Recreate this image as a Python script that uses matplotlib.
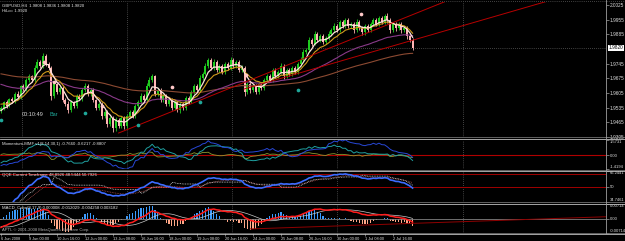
import numpy as np
import pandas as pd
import matplotlib
matplotlib.use("Agg")
import matplotlib.pyplot as plt
from matplotlib.lines import Line2D

plt.rcParams["font.family"] = ["Liberation Sans", "DejaVu Sans"]

# ---------------- data ----------------
warmup_close = [1.9745, 1.9738, 1.9750, 1.9732, 1.9728, 1.9735, 1.9725,
                1.9720, 1.9705, 1.9712, 1.9698, 1.9690, 1.9702, 1.9685, 1.9676, 1.9690, 1.9680,
                1.9665, 1.9672, 1.9655, 1.9640, 1.9632, 1.9618, 1.9600, 1.9575, 1.9540, 1.9505,
                1.9490, 1.9502, 1.9520]

close = [1.9534, 1.9562, 1.9543, 1.9577, 1.9567, 1.9601, 1.9586, 1.9639, 1.9624, 1.9667,
         1.9686, 1.9667, 1.9725, 1.9753, 1.9734, 1.9782, 1.9744, 1.9725, 1.9591, 1.9648,
         1.9610, 1.9629, 1.9572, 1.9553, 1.9524, 1.9562, 1.9543, 1.9591, 1.9577, 1.9620,
         1.9639, 1.9601, 1.9620, 1.9572, 1.9534, 1.9553, 1.9496, 1.9515, 1.9457, 1.9486,
         1.9438, 1.9477, 1.9448, 1.9486, 1.9448, 1.9496, 1.9515, 1.9496, 1.9543, 1.9562,
         1.9591, 1.9572, 1.9639, 1.9667, 1.9686, 1.9601, 1.9620, 1.9572, 1.9591, 1.9553,
         1.9572, 1.9534, 1.9562, 1.9524, 1.9553, 1.9534, 1.9581, 1.9562, 1.9610, 1.9639,
         1.9620, 1.9677, 1.9696, 1.9734, 1.9763, 1.9725, 1.9753, 1.9715, 1.9734, 1.9705,
         1.9744, 1.9725, 1.9763, 1.9734, 1.9753, 1.9715, 1.9725, 1.9610, 1.9648, 1.9620,
         1.9639, 1.9610, 1.9648, 1.9629, 1.9667, 1.9686, 1.9667, 1.9715, 1.9686, 1.9705,
         1.9734, 1.9686, 1.9715, 1.9696, 1.9725, 1.9705, 1.9744, 1.9763, 1.9801, 1.9810,
         1.9858, 1.9839, 1.9887, 1.9858, 1.9877, 1.9849, 1.9868, 1.9887, 1.9906, 1.9925,
         1.9906, 1.9944, 1.9925, 1.9953, 1.9925, 1.9934, 1.9906, 1.9944, 1.9915, 1.9896,
         1.9925, 1.9906, 1.9934, 1.9953, 1.9934, 1.9963, 1.9944, 1.9973, 1.9953, 1.9906,
         1.9934, 1.9915, 1.9934, 1.9906, 1.9915, 1.9877, 1.9858, 1.9820]

# wick lengths above / below the body, in pips
wick_up = [8, 5, 10, 6, 9, 7, 12, 6, 9, 8, 10, 7, 12, 15, 9, 14, 8, 10, 7, 9,
           6, 10, 8, 7, 12, 9, 6, 10, 8, 11, 12, 8, 10, 7, 6, 9, 8, 11, 7, 10,
           9, 12, 8, 10, 7, 9, 11, 8, 10, 9, 12, 8, 14, 16, 10, 7, 9, 8, 11, 7,
           9, 8, 10, 7, 11, 9, 8, 12, 7, 10, 9, 12, 8, 14, 10, 8, 12, 9, 11, 8,
           10, 9, 12, 8, 10, 9, 14, 7, 10, 9, 11, 8, 10, 9, 12, 8, 10, 9, 11, 8,
           12, 9, 10, 8, 11, 9, 10, 12, 14, 10, 12, 9, 13, 10, 9, 11, 8, 12, 10, 13,
           11, 10, 9, 12, 10, 8, 12, 16, 10, 9, 11, 10, 9, 8, 12, 10, 11, 9, 14, 10,
           9, 11, 10, 12, 9, 10, 8, 9]
wick_dn = [9, 8, 10, 6, 9, 8, 7, 10, 8, 9, 10, 8, 9, 7, 10, 8, 9, 12, 18, 10,
           9, 11, 8, 10, 14, 9, 8, 10, 7, 9, 11, 9, 10, 8, 12, 10, 14, 11, 15, 10,
           18, 12, 10, 9, 14, 11, 9, 8, 10, 9, 8, 9, 10, 7, 9, 12, 10, 9, 11, 10,
           12, 9, 11, 10, 14, 10, 8, 9, 7, 8, 9, 8, 10, 7, 9, 10, 8, 9, 11, 9,
           10, 8, 9, 10, 8, 11, 10, 20, 12, 14, 11, 10, 9, 8, 9, 7, 10, 8, 11, 9,
           10, 12, 9, 10, 8, 9, 7, 8, 9, 10, 8, 9, 7, 10, 9, 11, 12, 10, 9, 8,
           10, 9, 11, 9, 10, 12, 14, 9, 11, 14, 12, 10, 9, 8, 10, 9, 11, 10, 14, 16,
           10, 12, 11, 14, 12, 15, 11, 10]

time_label_bars = [0, 10, 20, 30, 40, 50, 60, 70, 80, 90, 100, 110, 120, 130, 140]
time_labels = ["6 Jun 2008", "9 Jun 00:00", "10 Jun 16:00", "12 Jun 00:00", "13 Jun 08:00",
               "16 Jun 16:00", "18 Jun 00:00", "19 Jun 08:00", "20 Jun 16:00", "24 Jun 00:00",
               "25 Jun 08:00", "26 Jun 16:00", "30 Jun 00:00", "1 Jul 08:00", "2 Jul 16:00"]

price_ticks = [2.0025, 1.9955, 1.9885, 1.9745, 1.9675, 1.9605, 1.9535, 1.9465, 1.9395]
price_labels = ["2.0025", "1.9955", "1.9885", "1.9745", "1.9675", "1.9605", "1.9535", "1.9465", "1.9395"]
price_range = (1.93954, 2.00394)

pink_bars = [15.5, 19, 36, 61, 87.5, 128.5]
pink_prices = [1.9753, 1.9658, 1.9543, 1.9634, 1.9691, 1.9982]
teal_bars = [0, 30, 49, 71, 106]
teal_prices = [1.9476, 1.9510, 1.9453, 1.9562, 1.9620]

trend1 = [(42.0, 1.9414), (147.0, 1.9979)]
trend2 = [(86.8, 1.9624), (147.0, 1.9857)]

vgrid_bars = [7.5, 45.0, 82.5, 120.0, 165.0]

mom_range = (-1.4194, 1.5731)
mom_labels = ["1.5731", "0.00", "-1.4194"]
qqe_range = (34.7461, 66.2441)
qqe_labels = ["66.2441", "50", "34.7461"]
qqe_levels = [50.0, 63.5]

title_main = "GBPUSD,H4  1.9808 1.9836 1.9808 1.9820"
title_hilo = "HiLo= 1.9920"
title_mom = "Momentum-MMF v1(8,14,30,1) -0.7660 -0.6217 -0.8807"
title_qqe = "QQE Current Timeframe 48.8926 48.5444 50.7926"
title_macd = "MACD_Color(8,17,9) 0.000008 -0.012029 -0.004258 0.003182"
copyright_txt = "APTL \u00a9 2001-2008 MetaQuotes Software Corp."

assert len(close) == len(wick_up) == len(wick_dn)

# ---------------- indicator computations ----------------
nW = len(warmup_close)
allc = pd.Series(warmup_close + close)
n = len(close)
bars = np.arange(n)


def ema(s, span):
    return s.ewm(span=span, adjust=False).mean()


white = ema(ema(allc, 3), 3).values[nW:]
orange = ema(allc, 10).values[nW:]
purple = ema(allc, 40).values[nW:]
brown = ema(allc, 100).values[nW:]

c = np.array(close)
o = np.array([warmup_close[-1]] + close[:-1])
hi = np.maximum(o, c) + np.array(wick_up) * 1e-4
lo = np.minimum(o, c) - np.array(wick_dn) * 1e-4


def mom(p):
    return ((allc / allc.shift(p) - 1.0) * 100.0)


mom_blue = ema(mom(30).bfill(), 2).values[nW:]
mom_teal = ema(mom(14).bfill(), 2).values[nW:]
mom_olive = ema(mom(2).bfill(), 3).values[nW:]

RSI_N = 21
d = allc.diff().fillna(0)
au = d.clip(lower=0).ewm(alpha=1 / RSI_N, adjust=False).mean()
ad = (-d.clip(upper=0)).ewm(alpha=1 / RSI_N, adjust=False).mean()
rsi = 100 - 100 / (1 + au / ad.replace(0, 1e-9))
rsima = ema(rsi, 5)
dar = ema(ema(rsima.diff().abs().fillna(0), 27), 27) * 4.236
tr = np.zeros(len(rsima))
tr[0] = rsima.iloc[0]
rv = rsima.values
dv_ = dar.values
for i in range(1, len(rv)):
    prev = tr[i - 1]
    if rv[i] < prev:
        tr[i] = min(prev, rv[i] + dv_[i]) if rv[i - 1] < prev else rv[i] + dv_[i]
    elif rv[i] > prev:
        tr[i] = max(prev, rv[i] - dv_[i]) if rv[i - 1] > prev else rv[i] - dv_[i]
    else:
        tr[i] = prev
qqe_blue = rsima.values[nW:]
qqe_trail = tr[nW:]
qqe_slow = ema(rsima, 12).values[nW:]

OSMA_GAIN = 2.0
macd_line = (ema(allc, 8) - ema(allc, 17))
macd_signal = macd_line.rolling(9, min_periods=1).mean()
macd_hist = ((macd_line - macd_signal) * OSMA_GAIN).values[nW:]
macd_m = macd_line.values[nW:]
macd_s = macd_signal.values[nW:]

# ---------------- figure ----------------
W, H = 625, 241
fig = plt.figure(figsize=(W / 100, H / 100), dpi=100, facecolor="black")


def fy(py):
    return 1 - py / H


PX = 2.8
AXW = 606
xlim = (-1 / PX, (AXW - 1) / PX)
AW = AXW / W


def mkax(top, bot, lsize=3.4):
    ax = fig.add_axes([0, fy(bot), AW, (bot - top) / H])
    ax.set_facecolor("black")
    for s in ax.spines.values():
        s.set_visible(False)
    ax.set_xlim(*xlim)
    ax.set_xticks([])
    ax.yaxis.tick_right()
    ax.tick_params(axis="y", length=2, width=0.5, color="#a0a0a0", labelcolor="#e0e0e0",
                   labelsize=lsize, pad=0.8)
    for b in vgrid_bars:
        ax.axvline(b, color="#808080", lw=0.5, ls=(0, (1, 2)))
    return ax


TXT = dict(color="#e8e8e8", fontsize=3.1)

# main chart
ax = mkax(2, 137)
ax.set_ylim(*price_range)
ax.set_yticks(price_ticks)
ax.set_yticklabels(price_labels)
ax.axhline(c[-1], color="#808080", lw=0.5, ls=(0, (1, 2)))

up = c >= o
col = np.where(up, "#1fcc1f", "#ffb4b4")
ax.vlines(bars, lo, hi, colors=col, lw=0.6)
body_h = np.maximum(np.abs(c - o), 0.00006)
ax.bar(bars, body_h, bottom=np.minimum(o, c), width=0.75, color=col, linewidth=0)

ax.plot(bars, brown, color="#8c4a32", lw=0.8)
ax.plot(bars, purple, color="#8a3a8a", lw=0.8)
ax.plot(bars, orange, color="#d09a1c", lw=0.8)
ax.plot(bars, white, color="#ffe4dc", lw=0.9)

for (x1, y1), (x2, y2) in (trend1, trend2):
    slope = (y2 - y1) / (x2 - x1)
    xe = xlim[1] + 10
    ax.plot([x1, xe], [y1, y1 + slope * (xe - x1)], color="#b80000", lw=0.7)

ax.scatter(pink_bars, pink_prices, s=7, color="#ffc8c8", zorder=5, linewidths=0)
ax.scatter(teal_bars, teal_prices, s=7, color="#1fa89a", zorder=5, linewidths=0)

ax.text(2 / AXW, 1 - 2 / 135, title_main, transform=ax.transAxes, va="top", ha="left", **TXT)
ax.text(2 / AXW, 1 - 7 / 135, title_hilo, transform=ax.transAxes, va="top", ha="left", **TXT)
ax.text(22 / AXW, 22 / 135, "00:10:49", transform=ax.transAxes, va="center", ha="left",
        color="#d8d8d8", fontsize=4)
ax.text(50 / AXW, 22 / 135, "Bar", transform=ax.transAxes, va="center", ha="left",
        color="#1fa89a", fontsize=4)
ax.text(1.004, c[-1], "1.9820", transform=ax.get_yaxis_transform(), va="center", ha="left",
        fontsize=3.4, color="black",
        bbox=dict(boxstyle="square,pad=0.15", fc="white", ec="white", lw=0))

# momentum
axm = mkax(140, 169, 3.0)
axm.set_ylim(*mom_range)
axm.set_yticks([mom_range[1], 0.0, mom_range[0]])
axm.set_yticklabels(mom_labels)
tl = axm.get_yticklabels()
tl[0].set_va("top"); tl[2].set_va("bottom")
axm.axhline(0, color="#b00000", lw=0.8)
axm.plot(bars, mom_olive, color="#8c9a30", lw=0.6)
axm.plot(bars, mom_teal, color="#1fa0a0", lw=0.7)
axm.plot(bars, mom_blue, color="#2848d8", lw=0.7)
axm.text(2 / AXW, 0.93, title_mom, transform=axm.transAxes, va="top", ha="left", **TXT)

# QQE
axq = mkax(171, 202, 3.0)
axq.set_ylim(*qqe_range)
axq.set_yticks([qqe_range[1], 50.0, qqe_range[0]])
axq.set_yticklabels(qqe_labels)
tl = axq.get_yticklabels()
tl[0].set_va("top"); tl[2].set_va("bottom")
for lv in qqe_levels:
    axq.axhline(lv, color="#a00000", lw=0.7)
axq.plot(bars, qqe_slow, color="#a04848", lw=0.6, ls=(0, (1, 1)))
axq.plot(bars, qqe_trail, color="#d0d0d0", lw=0.6, ls=(0, (1, 1)))
axq.plot(bars, qqe_blue, color="#3c6cff", lw=1.2)
axq.text(2 / AXW, 0.93, title_qqe, transform=axq.transAxes, va="top", ha="left", **TXT)

# MACD
axc = mkax(204, 233, 3.0)
mx = max(np.nanmax(np.abs(macd_m)), np.nanmax(np.abs(macd_hist))) * 1.05
axc.set_ylim(-mx, mx)
axc.set_yticks([mx, 0.0, -mx])
axc.set_yticklabels([f"{mx:.5f}", "0.00", f"{-mx:.5f}"])
tl = axc.get_yticklabels()
tl[0].set_va("top"); tl[2].set_va("bottom")
axc.axhline(0, color="#808080", lw=0.6)
hcol = np.where(macd_hist >= 0, "#3a9cff", "#ffa888")
axc.bar(bars, macd_hist, width=0.45, color=hcol, linewidth=0)
axc.plot(bars, macd_s, color="#c8c8c8", lw=0.5)
axc.plot(bars, macd_m, color="#ff1c1c", lw=1.1)
macd_trend = [(89.0, -0.72 * mx), (216.0, 0.12 * mx)]
axc.plot([p[0] for p in macd_trend], [p[1] for p in macd_trend], color="#900000", lw=0.7)
axc.text(2 / AXW, 0.93, title_macd, transform=axc.transAxes, va="top", ha="left", **TXT)
axc.text(2 / AXW, 0.05, copyright_txt, transform=axc.transAxes, va="bottom", ha="left",
         color="#b0b0b0", fontsize=3.0)
axc.set_xticks(time_label_bars)
axc.set_xticklabels(time_labels)
axc.tick_params(axis="x", length=2, width=0.5, color="#a0a0a0", labelcolor="#e0e0e0",
                labelsize=2.8, pad=1)
for t in axc.get_xticklabels():
    t.set_ha("left")

# frame / separators
def hline(py, color="#a0a0a0", lw=0.8, ls="-"):
    fig.add_artist(Line2D([0, 1], [fy(py), fy(py)], color=color, lw=lw, ls=ls,
                          transform=fig.transFigure))

hline(1, "#808080", 0.5, (0, (1, 2)))
for py in (138, 170.5, 203, 233.5):
    hline(py - 0.6, "#707070", 0.6)
    hline(py + 0.6, "#c0c0c0", 0.6)
fig.add_artist(Line2D([AW, AW], [fy(234), 1], color="#a0a0a0", lw=0.6,
                      transform=fig.transFigure))

fig.savefig("out.png", dpi=100, facecolor="black")
